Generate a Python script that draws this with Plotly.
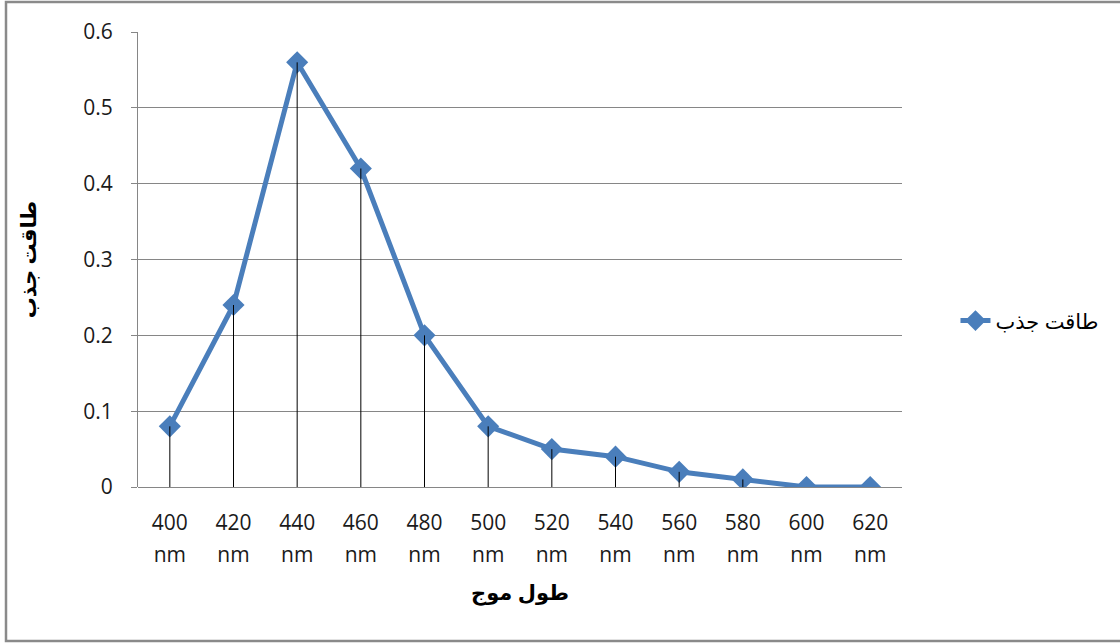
import plotly.graph_objects as go

# Absorbance vs. wavelength
categories = ["400 nm", "420 nm", "440 nm", "460 nm", "480 nm", "500 nm",
              "520 nm", "540 nm", "560 nm", "580 nm", "600 nm", "620 nm"]
tick_top = ["400", "420", "440", "460", "480", "500",
            "520", "540", "560", "580", "600", "620"]
tick_bottom = ["nm"] * len(categories)
absorbance = [0.08, 0.24, 0.56, 0.42, 0.20, 0.08, 0.05, 0.04, 0.02, 0.01, 0.0, 0.0]

series_name = "طاقت جذب"
x_title = "طول موج"
y_title = "طاقت جذب"

BLUE = "#4A7EBB"
GRID = "#868686"
FONT = "Open Sans, DejaVu Sans, sans-serif"

# drop lines from each point down to zero
drop_x, drop_y = [], []
for c, v in zip(categories, absorbance):
    drop_x += [c, c, None]
    drop_y += [v, 0, None]

fig = go.Figure()
fig.add_trace(go.Scatter(
    x=categories, y=absorbance, name=series_name, mode="lines+markers",
    line=dict(color=BLUE, width=5),
    marker=dict(symbol="diamond", size=17, color=BLUE),
))
fig.add_trace(go.Scatter(
    x=drop_x, y=drop_y, mode="lines", showlegend=False, hoverinfo="skip",
    line=dict(color="black", width=1),
))

fig.update_layout(
    width=1120, height=643,
    margin=dict(l=138, r=218, t=32, b=156),
    paper_bgcolor="white", plot_bgcolor="white",
    font=dict(family=FONT, size=21, color="#1a1a1a"),
    showlegend=True,
    legend=dict(x=1.07, y=0.365, xanchor="left", yanchor="middle",
                font=dict(size=21, color="black"), bgcolor="rgba(0,0,0,0)"),
    xaxis=dict(
        type="category", categoryorder="array", categoryarray=categories,
        range=[-0.5, len(categories) - 0.5],
        tickvals=categories, ticktext=tick_top,
        ticks="", showgrid=False, zeroline=False,
        showline=False, ticklabelstandoff=21,
        title=dict(text="<b>" + x_title + "</b>", standoff=50,
                   font=dict(size=21, color="black")),
    ),
    xaxis2=dict(
        type="category", overlaying="x", matches="x", anchor="y", side="bottom",
        categoryorder="array", categoryarray=categories,
        tickvals=categories, ticktext=tick_bottom,
        ticks="", showgrid=False, zeroline=False, showline=False,
        ticklabelstandoff=53,
    ),
    yaxis=dict(
        range=[0, 0.6], dtick=0.1, tick0=0,
        showgrid=True, gridcolor=GRID, gridwidth=1,
        zeroline=True, zerolinecolor=GRID, zerolinewidth=1,
        showline=True, linecolor=GRID, linewidth=1,
        ticks="outside", ticklen=6, tickcolor=GRID,
        ticklabelstandoff=14,
        title=dict(text="<b>" + y_title + "</b>", standoff=40,
                   font=dict(size=21, color="black")),
    ),
    shapes=[dict(type="rect", xref="paper", yref="paper",
                 x0=(6 - 138) / 764, x1=(1140 - 138) / 764,
                 y0=(487 - 641) / 455, y1=(487 - 2) / 455,
                 line=dict(color="#8a8a8a", width=2.5), layer="below")],
)

# invisible trace so the second axis is drawn with its labels
fig.add_trace(go.Scatter(x=categories, y=absorbance, xaxis="x2", mode="markers",
                         marker=dict(opacity=0), showlegend=False, hoverinfo="skip"))

fig.write_html("out.html")
